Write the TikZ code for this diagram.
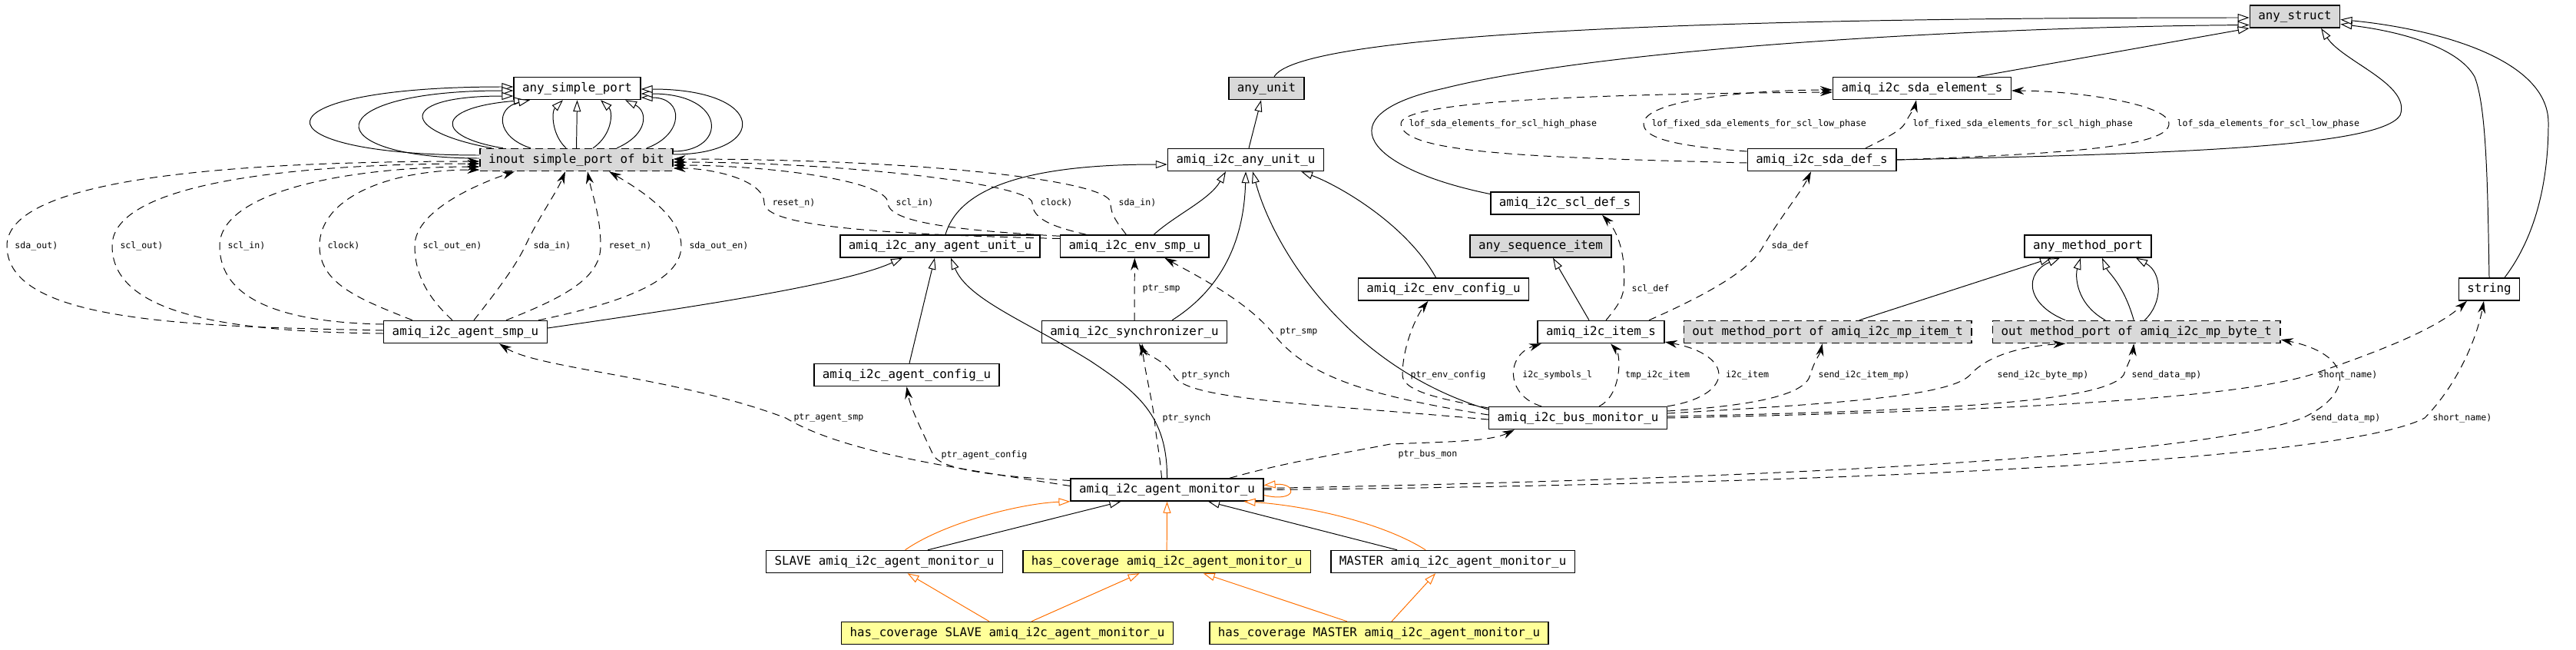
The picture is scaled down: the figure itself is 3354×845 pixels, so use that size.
\documentclass[tikz,border=0pt]{standalone}
\usepackage{fontspec}
\usetikzlibrary{arrows.meta,positioning}
\newfontfamily\dgmono{DejaVu Sans Mono}
\definecolor{extgray}{HTML}{D9D9D9}
\definecolor{covyellow}{HTML}{FFFF99}
\definecolor{covorange}{HTML}{FF7000}
\tikzset{
  cls/.style={draw,rectangle,fill=white,line width=0.42pt,minimum height=0.29cm,inner xsep=0.11cm,inner ysep=0pt,font=\dgmono\fontsize{4.5pt}{5pt}\selectfont},
  extcls/.style={cls,fill=extgray},
  extport/.style={cls,fill=extgray,dash pattern=on 0.1cm off 0.06cm},
  covcls/.style={cls,fill=covyellow},
  inh/.style={-{Triangle[length=0.15cm,width=0.1cm,fill=white]},line width=0.28pt},
  covinh/.style={inh,draw=covorange},
  ref/.style={-{Stealth[length=0.16cm,width=0.1cm]},dash pattern=on 0.1cm off 0.07cm,line width=0.28pt},
  lbl/.style={font=\dgmono\fontsize{3.3pt}{4pt}\selectfont,anchor=west,inner sep=0.1cm}
}

\begin{document}
\begin{tikzpicture}[x=0.01cm,y=-0.01cm]
  \useasboundingbox (0,0) rectangle (3354,845);

  \node[extcls] (anystruct) at (2988,21.5) {any\_struct};
  \node[cls] (asp) at (751.5,115) {any\_simple\_port};
  \node[extcls] (anyunit) at (1649,115) {any\_unit};
  \node[cls] (sel) at (2502.5,115) {amiq\_i2c\_sda\_element\_s};
  \node[extport] (inout) at (750.5,208) {inout simple\_port of bit};
  \node[cls] (auu) at (1622,208) {amiq\_i2c\_any\_unit\_u};
  \node[cls] (sdef) at (2372,208) {amiq\_i2c\_sda\_def\_s};
  \node[cls] (scl) at (2037.5,264.5) {amiq\_i2c\_scl\_def\_s};
  \node[cls] (aau) at (1224,320.5) {amiq\_i2c\_any\_agent\_unit\_u};
  \node[cls, right=0.25cm of aau] (esmp) {amiq\_i2c\_env\_smp\_u};
  \node[extcls] (asi) at (2006,320.5) {any\_sequence\_item};
  \node[cls] (amp) at (2718.5,320.5) {any\_method\_port};
  \node[cls] (ecfg) at (1879.5,376.5) {amiq\_i2c\_env\_config\_u};
  \node[cls] (str) at (3241,376.5) {string};
  \node[cls] (smp) at (606,432) {amiq\_i2c\_agent\_smp\_u};
  \node[cls] (synch) at (1477,432) {amiq\_i2c\_synchronizer\_u};
  \node[cls] (item) at (2084.5,432) {amiq\_i2c\_item\_s};
  \node[extport, right=0.24cm of item] (mpi) {out method\_port of amiq\_i2c\_mp\_item\_t};
  \node[extport, right=0.26cm of mpi] (mpb) {out method\_port of amiq\_i2c\_mp\_byte\_t};
  \node[cls] (aconf) at (1180.5,488) {amiq\_i2c\_agent\_config\_u};
  \node[cls] (bm) at (2054.5,544) {amiq\_i2c\_bus\_monitor\_u};
  \node[cls] (amon) at (1519.5,637.5) {amiq\_i2c\_agent\_monitor\_u};
  \node[cls] (slv) at (1151.5,731) {SLAVE amiq\_i2c\_agent\_monitor\_u};
  \node[covcls, right=0.25cm of slv] (hcov) {has\_coverage amiq\_i2c\_agent\_monitor\_u};
  \node[cls, right=0.25cm of hcov] (mst) {MASTER amiq\_i2c\_agent\_monitor\_u};
  \node[covcls] (hcs) at (1311.5,824) {has\_coverage SLAVE amiq\_i2c\_agent\_monitor\_u};
  \node[covcls, right=0.46cm of hcs] (hcm) {has\_coverage MASTER amiq\_i2c\_agent\_monitor\_u};

  % inheritance
  \draw[inh] ([yshift=0.06cm]inout.west) .. controls (325,202) and (325,113) .. ([yshift=0.02cm]asp.west);
  \draw[inh] ([yshift=0.02cm]inout.west) .. controls (410,206) and (410,118) .. ([yshift=-0.03cm]asp.west);
  \draw[inh] ([xshift=-1.105cm]inout.north) .. controls (518,170) and (518,125) .. ([yshift=-0.1cm]asp.west);
  \draw[inh] ([xshift=-0.955cm]inout.north) .. controls (565,178) and (565,140) .. ([xshift=-0.675cm]asp.south);
  \draw[inh] ([xshift=-0.595cm]inout.north) .. controls (645,178) and (645,140) .. ([xshift=-0.615cm]asp.south);
  \draw[inh] ([xshift=-0.135cm]inout.north) .. controls (718,175) and (718,145) .. ([xshift=-0.185cm]asp.south);
  \draw[inh] (inout.north) -- (asp.south);
  \draw[inh] ([xshift=0.215cm]inout.north) .. controls (798,175) and (798,145) .. ([xshift=0.305cm]asp.south);
  \draw[inh] ([xshift=0.525cm]inout.north) .. controls (844,175) and (844,145) .. ([xshift=0.625cm]asp.south);
  \draw[inh] ([xshift=0.915cm]inout.north) .. controls (891,175) and (891,127) .. ([yshift=-0.12cm]asp.east);
  \draw[inh] ([yshift=0.11cm]inout.east) .. controls (947,197) and (947,122) .. ([yshift=-0.07cm]asp.east);
  \draw[inh] ([yshift=0.07cm]inout.east) .. controls (1001,201) and (1001,116) .. ([yshift=-0.01cm]asp.east);

  \draw[inh] ([xshift=0.04cm]auu.north) -- ([xshift=-0.07cm]anyunit.south);
  \draw[inh] ([xshift=0.1cm]anyunit.north) .. controls (1700,30) and (2500,23) .. ([yshift=-0.015cm]anystruct.west);
  \draw[inh] ([yshift=0.12cm]scl.west) .. controls (1780,220) and (1720,150) .. (1880,115) .. controls (2100,60) and (2600,35) .. ([yshift=-0.11cm]anystruct.west);
  \draw[inh] ([xshift=0.72cm]sel.north) -- (anystruct.south west);
  \draw[inh] (sdef.east) .. controls (2850,200) and (3100,190) .. (3125,150) .. controls (3140,110) and (3050,80) .. ([xshift=0.34cm]anystruct.south);
  \draw[inh] (str.north) .. controls (3239,250) and (3238,140) .. (3222,100) .. controls (3200,60) and (3120,40) .. ([yshift=-0.1cm]anystruct.east);
  \draw[inh] ([xshift=0.2cm]str.north) .. controls (3300,310) and (3318,240) .. (3318,160) .. controls (3318,70) and (3150,35) .. ([yshift=-0.04cm]anystruct.east);
  \draw[inh] ([xshift=-0.155cm]item.north) -- ([xshift=0.16cm]asi.south);
  \draw[inh] ([xshift=0.41cm]mpi.north) -- ([xshift=-0.475cm]amp.south);
  \draw[inh] ([xshift=-0.925cm]mpb.north) .. controls (2636,395) and (2636,355) .. ([xshift=-0.365cm]amp.south);
  \draw[inh] ([xshift=-0.405cm]mpb.north) .. controls (2702,395) and (2702,358) .. ([xshift=-0.095cm]amp.south);
  \draw[inh] ([xshift=-0.035cm]mpb.north) .. controls (2765,370) and (2745,355) .. ([xshift=0.185cm]amp.south);
  \draw[inh] ([xshift=0.105cm]mpb.north) .. controls (2816,395) and (2816,355) .. ([xshift=0.625cm]amp.south);

  \draw[inh] ([yshift=0.05cm]smp.east) .. controls (900,400) and (1100,370) .. ([xshift=-0.49cm]aau.south);
  \draw[inh] ([xshift=0.035cm]aconf.north) -- ([xshift=-0.07cm]aau.south);
  \draw[inh] (amon.north) .. controls (1520,540) and (1480,510) .. (1420,470) .. controls (1340,420) and (1260,390) .. ([xshift=0.14cm]aau.south);
  \draw[inh] ([xshift=0.07cm]aau.north) .. controls (1250,240) and (1350,214) .. ([yshift=-0.06cm]auu.west);
  \draw[inh] ([xshift=0.25cm]esmp.north) .. controls (1530,280) and (1575,260) .. ([xshift=-0.26cm]auu.south);
  \draw[inh] ([xshift=0.49cm]synch.north) .. controls (1600,370) and (1620,300) .. (auu.south);
  \draw[inh] ([yshift=0.11cm]bm.west) .. controls (1760,480) and (1660,330) .. ([xshift=0.09cm]auu.south);
  \draw[inh] ([xshift=-0.1cm]ecfg.north) .. controls (1830,290) and (1740,240) .. ([xshift=0.72cm]auu.south);

  \draw[inh] ([xshift=0.565cm]slv.north) -- ([xshift=-0.6cm]amon.south);
  \draw[covinh] ([xshift=0.27cm]slv.north) .. controls (1230,680) and (1330,655) .. (amon.south west);
  \draw[covinh] (hcov.north) -- (amon.south);
  \draw[inh] ([xshift=-0.725cm]mst.north) -- ([xshift=0.535cm]amon.south);
  \draw[covinh] ([xshift=-0.355cm]mst.north) .. controls (1800,680) and (1700,658) .. ([xshift=1cm]amon.south);
  \draw[covinh] ([xshift=-0.235cm]hcs.north) -- ([xshift=0.3cm]slv.south);
  \draw[covinh] ([xshift=0.315cm]hcs.north) -- ([xshift=-0.355cm]hcov.south);
  \draw[covinh] ([xshift=-0.415cm]hcm.north) -- ([xshift=0.475cm]hcov.south);
  \draw[covinh] ([xshift=0.165cm]hcm.north) -- ([xshift=-0.225cm]mst.south);
  \draw[covinh] ([yshift=-0.07cm]amon.east) .. controls (1690,655) and (1690,628) .. ([yshift=0.06cm]amon.east);

  % references
  \draw[ref] ([yshift=0.02cm]smp.west) .. controls (250,425) and (9,420) .. (9,320) node[lbl] {sda\_out)} .. controls (9,225) and (350,210) .. ([yshift=-0.02cm]inout.west);
  \draw[ref] ([yshift=-0.02cm]smp.west) .. controls (300,432) and (146,410) .. (146,320) node[lbl] {scl\_out)} .. controls (146,235) and (400,213) .. ([yshift=-0.05cm]inout.west);
  \draw[ref] ([yshift=0.1cm]smp.west) .. controls (380,420) and (286,395) .. (286,320) node[lbl] {scl\_in)} .. controls (286,250) and (450,217) .. ([yshift=-0.09cm]inout.west);
  \draw[ref] ([xshift=-0.69cm]smp.north) .. controls (470,390) and (416,370) .. (416,320) node[lbl] {clock)} .. controls (416,260) and (500,221) .. ([yshift=-0.13cm]inout.west);
  \draw[ref] ([xshift=-0.17cm]smp.north) .. controls (560,390) and (540,360) .. (540,320) node[lbl] {scl\_out\_en)} .. controls (540,275) and (620,240) .. ([xshift=-0.805cm]inout.south);
  \draw[ref] ([xshift=0.11cm]smp.north) .. controls (650,375) and (672,345) .. (684,320) node[lbl] {sda\_in)} .. controls (700,285) and (725,250) .. ([xshift=-0.145cm]inout.south);
  \draw[ref] ([xshift=0.53cm]smp.north) .. controls (740,385) and (782,360) .. (782,320) node[lbl] {reset\_n)} .. controls (782,280) and (770,250) .. ([xshift=0.145cm]inout.south);
  \draw[ref] ([xshift=0.95cm]smp.north) .. controls (830,390) and (887,360) .. (887,320) node[lbl] {sda\_out\_en)} .. controls (887,280) and (830,245) .. ([xshift=0.425cm]inout.south);

  \draw[ref] ([yshift=0.1cm]esmp.west) .. controls (1150,305) and (995,295) .. (995,264) node[lbl] {reset\_n)} .. controls (995,235) and (930,219) .. ([yshift=-0.11cm]inout.east);
  \draw[ref] ([yshift=-0.02cm]esmp.north west) .. controls (1250,300) and (1156,290) .. (1156,264) node[lbl] {scl\_in)} .. controls (1156,235) and (1000,215) .. ([yshift=-0.07cm]inout.east);
  \draw[ref] ([xshift=-0.63cm]esmp.north) .. controls (1370,295) and (1344,285) .. (1344,264) node[lbl] {clock)} .. controls (1344,240) and (1100,211) .. ([yshift=-0.03cm]inout.east);
  \draw[ref] ([xshift=-0.11cm]esmp.north) .. controls (1455,290) and (1446,280) .. (1446,264) node[lbl] {sda\_in)} .. controls (1446,235) and (1200,207) .. ([yshift=0.01cm]inout.east);

  \draw[ref] ([yshift=-0.04cm]sdef.west) .. controls (2000,205) and (1824,200) .. (1824,161) node[lbl] {lof\_sda\_elements\_for\_scl\_high\_phase} .. controls (1824,130) and (2100,122) .. ([yshift=-0.05cm]sel.west);
  \draw[ref] ([yshift=0.11cm]sdef.west) .. controls (2180,190) and (2140,180) .. (2140,161) node[lbl] {lof\_fixed\_sda\_elements\_for\_scl\_low\_phase} .. controls (2140,130) and (2280,117) .. ([yshift=-0.02cm]sel.west);
  \draw[ref] ([xshift=0.57cm]sdef.north) .. controls (2455,180) and (2475,170) .. (2480,161) node[lbl] {lof\_fixed\_sda\_elements\_for\_scl\_high\_phase} .. controls (2487,148) and (2493,140) .. ([xshift=-0.075cm]sel.south);
  \draw[ref] (sdef.east) .. controls (2700,200) and (2824,190) .. (2824,161) node[lbl] {lof\_sda\_elements\_for\_scl\_low\_phase} .. controls (2824,135) and (2700,118) .. ([yshift=-0.03cm]sel.east);

  \draw[ref] ([xshift=0.065cm]item.north) .. controls (2105,400) and (2112,390) .. (2114,376) node[lbl] {scl\_def} .. controls (2118,330) and (2105,300) .. ([xshift=0.485cm]scl.south);
  \draw[ref] ([xshift=0.625cm]item.north) .. controls (2230,380) and (2280,350) .. (2296,320) node[lbl] {sda\_def} .. controls (2320,280) and (2345,250) .. ([xshift=-0.14cm]sdef.south);
  \draw[ref] (synch.north) -- (esmp.south) node[lbl,midway] {ptr\_smp};

  \draw[ref] ([yshift=0.13cm]bm.west) .. controls (1880,520) and (1826,510) .. (1826,488) node[lbl] {ptr\_env\_config} .. controls (1826,450) and (1845,410) .. ([xshift=-0.2cm]ecfg.south);
  \draw[ref] ([xshift=-0.475cm]bm.north) .. controls (1960,515) and (1960,462) .. ([xshift=-0.775cm]item.south) node[lbl,pos=0.5] {i2c\_symbols\_l};
  \draw[ref] ([xshift=0.275cm]bm.north) .. controls (2111,515) and (2111,462) .. ([xshift=0.125cm]item.south) node[lbl,pos=0.5] {tmp\_i2c\_item};
  \draw[ref] (bm.north east) .. controls (2259,515) and (2259,462) .. ([yshift=-0.13cm]item.east) node[lbl,pos=0.5] {i2c\_item};
  \draw[ref] ([yshift=0.09cm]bm.east) .. controls (2280,528) and (2350,515) .. (2357,488) node[lbl] {send\_i2c\_item\_mp)} .. controls (2362,470) and (2370,460) .. ([xshift=-0.07cm]mpi.south);
  \draw[ref] ([yshift=0.06cm]bm.east) .. controls (2400,525) and (2540,515) .. (2565,488) node[lbl,xshift=0.25cm] {send\_i2c\_byte\_mp)} .. controls (2590,460) and (2640,450) .. ([xshift=-0.925cm]mpb.south);
  \draw[ref] ([yshift=0.02cm]bm.east) .. controls (2500,535) and (2740,525) .. (2765,488) node[lbl] {send\_data\_mp)} .. controls (2772,470) and (2777,460) .. ([xshift=-0.035cm]mpb.south);
  \draw[ref] (bm.east) .. controls (2600,535) and (2900,520) .. (3008,488) node[lbl] {short\_name)} .. controls (3090,460) and (3170,430) .. ([xshift=-0.29cm]str.south);
  \draw[ref] ([yshift=0.04cm]bm.west) .. controls (1780,515) and (1700,490) .. (1656,432) node[lbl] {ptr\_smp} .. controls (1620,390) and (1560,360) .. ([xshift=0.39cm]esmp.south);
  \draw[ref] ([yshift=-0.02cm]bm.west) .. controls (1700,525) and (1540,520) .. (1528,488) node[lbl] {ptr\_synch} .. controls (1518,470) and (1490,460) .. ([xshift=0.06cm]synch.south);

  \draw[ref] ([yshift=0.05cm]amon.west) .. controls (1250,610) and (1100,590) .. (1023,544) node[lbl] {ptr\_agent\_smp} .. controls (880,490) and (700,480) .. ([xshift=0.44cm]smp.south);
  \draw[ref] ([yshift=0.12cm]amon.west) .. controls (1300,620) and (1225,612) .. (1215,592) node[lbl] {ptr\_agent\_config} .. controls (1200,560) and (1185,530) .. (aconf.south);
  \draw[ref] ([xshift=-0.07cm]amon.north) .. controls (1510,590) and (1505,570) .. (1503,544) node[lbl] {ptr\_synch} .. controls (1498,510) and (1490,480) .. ([xshift=0.1cm]synch.south);
  \draw[ref] ([xshift=0.815cm]amon.north) .. controls (1680,600) and (1750,590) .. (1810,578) node[lbl,yshift=-0.13cm] {ptr\_bus\_mon} .. controls (1880,575) and (1940,575) .. ([xshift=-0.825cm]bm.south);
  \draw[ref] ([yshift=0.02cm]amon.east) .. controls (2200,625) and (2850,600) .. (2998,544) node[lbl] {send\_data\_mp)} .. controls (3070,510) and (3060,460) .. ([yshift=-0.1cm]mpb.east);
  \draw[ref] (amon.east) .. controls (2400,630) and (3050,600) .. (3157,544) node[lbl] {short\_name)} .. controls (3200,500) and (3225,440) .. ([xshift=-0.07cm]str.south);
\end{tikzpicture}
\end{document}
